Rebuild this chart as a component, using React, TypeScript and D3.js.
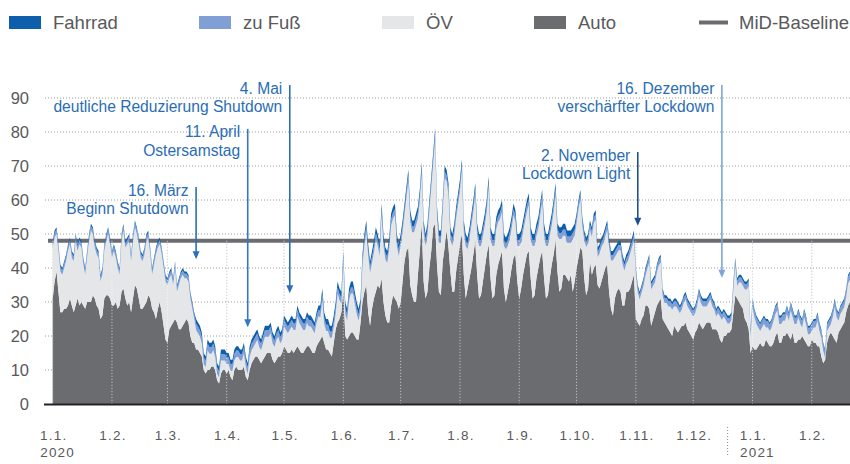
import React from 'react';
import * as d3 from 'd3';

// daily values, 1.1.2020 - 21.2.2021 (one entry per day)
const auto = [
  31, 36, 39, 33, 27, 27, 28, 28, 29, 31,
  29, 27, 29, 31, 29, 30, 29, 28, 30, 30,
  30, 32, 31, 29, 28, 25, 26, 31, 32, 32,
  31, 29, 29, 30, 28, 29, 33, 34, 31, 29,
  30, 27, 31, 35, 34, 31, 28, 28, 29, 30,
  32, 31, 28, 27, 25, 28, 30, 27, 23, 19,
  18, 22, 23, 24, 25, 24, 22, 22, 23, 24,
  25, 24, 20, 18, 18, 16, 16, 15, 14, 10,
  9, 10, 10, 11, 11, 10, 7, 6, 9, 10,
  10, 9, 10, 8, 7, 10, 11, 10, 10, 10,
  11, 8, 7, 10, 12, 13, 14, 14, 13, 12,
  13, 14, 15, 15, 15, 13, 12, 13, 14, 14,
  15, 17, 16, 15, 15, 16, 15, 16, 17, 16,
  15, 15, 16, 17, 17, 16, 15, 15, 17, 18,
  19, 20, 18, 16, 16, 15, 14, 18, 22, 24,
  25, 27, 34, 20, 19, 20, 21, 21, 20, 19,
  19, 24, 30, 33, 35, 27, 23, 28, 31, 33,
  35, 34, 37, 30, 26, 24, 24, 29, 32, 31,
  30, 28, 30, 36, 42, 45, 46, 35, 32, 30,
  30, 38, 45, 53, 36, 31, 33, 40, 45, 52,
  53, 41, 33, 32, 42, 46, 51, 46, 39, 33,
  33, 39, 43, 47, 50, 38, 31, 34, 37, 40,
  44, 48, 38, 31, 32, 36, 40, 44, 47, 37,
  31, 32, 38, 41, 43, 45, 34, 30, 33, 36,
  40, 43, 44, 36, 31, 34, 38, 41, 44, 45,
  37, 31, 32, 37, 40, 43, 45, 37, 31, 32,
  37, 41, 44, 48, 39, 33, 34, 38, 38, 37,
  36, 38, 33, 36, 40, 43, 46, 45, 37, 32,
  34, 42, 38, 40, 41, 35, 34, 36, 38, 40,
  41, 33, 28, 26, 31, 33, 34, 33, 29, 29,
  33, 33, 34, 36, 38, 25, 24, 23, 25, 26,
  29, 29, 28, 23, 25, 27, 29, 30, 31, 25,
  24, 23, 22, 21, 20, 23, 22, 21, 22, 23,
  23, 24, 22, 21, 20, 19, 21, 22, 24, 23,
  22, 23, 24, 24, 24, 22, 22, 22, 21, 19,
  18, 20, 20, 21, 21, 22, 27, 32, 31, 30,
  29, 28, 25, 24, 22, 15, 17, 16, 16, 17,
  18, 17, 17, 19, 18, 17, 17, 18, 20, 21,
  18, 18, 20, 20, 21, 20, 19, 21, 18, 18,
  19, 19, 20, 19, 18, 17, 17, 19, 18, 18,
  17, 17, 14, 12, 13, 18, 20, 21, 20, 19,
  18, 21, 22, 23, 24, 27, 29, 30,
];

const oev = [
  15, 13, 11, 12, 12, 11, 12, 14, 16, 16,
  14, 15, 19, 14, 18, 16, 12, 10, 13, 18,
  21, 18, 15, 15, 15, 11, 12, 14, 16, 18,
  16, 14, 16, 13, 12, 9, 15, 17, 15, 18,
  18, 15, 17, 17, 16, 16, 15, 14, 15, 18,
  17, 13, 10, 14, 19, 18, 17, 17, 17, 17,
  17, 15, 15, 11, 15, 9, 13, 15, 15, 13,
  12, 12, 11, 10, 7, 5.8, 4.8, 4.8, 3.8, 1.8,
  1.8, 5.8, 4.8, 3.8, 4.8, 3.8, 1.8, 1.8, 3.8, 2.8,
  2.8, 2.8, 1.8, 1.8, 2.8, 2.8, 2.8, 3.8, 2.8, 2.8,
  3.8, 2.8, 1.8, 3.8, 3.8, 3.8, 3.8, 4.8, 3.8, 3.8,
  4.8, 5.8, 4.8, 4.8, 5.8, 4.8, 4.8, 5.8, 5.8, 3.8,
  3.8, 5.8, 5.8, 5.8, 6.8, 6.8, 6.8, 5.8, 8.8, 7.8,
  7.8, 6.8, 5.8, 6.8, 5.8, 6.8, 6.8, 5.8, 6.8, 7.8,
  6.5, 10.5, 5.5, 5.5, 5.5, 4.5, 5.5, 4.5, 4.5, 8.5,
  5.5, 2.5, 7.5, 6.5, 5.5, 10.5, 11.5, 11.5, 9.5, 7.5,
  5.5, 3.5, 10.5, 13.5, 15.5, 16.5, 15.5, 13.5, 13.5, 15.5,
  11.5, 9.5, 18.5, 16.5, 16.5, 17.5, 21.5, 23.5, 22.5, 24.5,
  16.5, 15.5, 16.5, 14.5, 13.5, 15.5, 19.5, 18.5, 18.5, 20.5,
  22.5, 16.5, 14.5, 14.5, 14.5, 15.5, 16.5, 16.5, 18.5, 18.5,
  24.5, 13.5, 14.5, 15.5, 14.5, 20.5, 14.5, 15.5, 9.5, 13.5,
  16.5, 15.5, 15.5, 15.5, 18.5, 12.5, 15.5, 11.5, 11.5, 12.5,
  12.5, 13.5, 11.5, 15.5, 14.5, 13.5, 12.5, 12.5, 16.5, 11.5,
  15.5, 14.5, 13.5, 12.5, 11.5, 11.5, 12.5, 15.5, 13.5, 12.5,
  11.5, 12.5, 9.5, 10.5, 15.5, 13.5, 12.5, 12.5, 12.5, 13.5,
  11.5, 15.5, 14.5, 12.5, 11.5, 12.5, 14.5, 12.5, 15.5, 14.5,
  12.5, 11.5, 12.5, 13.5, 10.5, 15.5, 14.5, 11.5, 11.5, 10.5,
  11.5, 9.5, 15.5, 13.5, 13.2, 14.2, 14.2, 7.2, 11.2, 14.2,
  13.2, 9.2, 11.2, 13.2, 13.2, 8.2, 10.2, 10.2, 9.2, 9.2,
  10.2, 13.2, 14.2, 16.2, 12.2, 11.2, 11.2, 12.2, 12.2, 10.2,
  8.2, 9.2, 10.2, 10.2, 10.2, 12.7, 8.7, 7.7, 7.7, 8.7,
  8.7, 10.7, 13.7, 10.7, 9.7, 8.7, 9.7, 10.7, 10.7, 6.7,
  5.7, 6.7, 6.7, 7.7, 7.7, 5.7, 6.7, 6.7, 4.7, 4.7,
  6.7, 6.7, 6.7, 6.7, 6.7, 6.7, 5.7, 6.7, 7.7, 6.7,
  6.7, 5.7, 4.7, 5.7, 6.7, 6.7, 5.7, 3.7, 5.7, 6.7,
  6.7, 5.7, 4.7, 2.7, 2.7, 2.7, 6.7, 8.7, 3.7, 5.7,
  6.7, 6.7, 8.7, 9.7, 12.7, 4.7, 11.5, 9.5, 7.5, 5.5,
  3.5, 5.5, 6.5, 3.5, 4.5, 4.5, 5.5, 6.5, 6.5, 6.5,
  5.5, 5.5, 4.5, 4.5, 5.5, 4.5, 8.5, 4.5, 5.5, 5.5,
  6.5, 4.5, 2.5, 6.5, 5.5, 3.5, 3.5, 2.5, 4.5, 4.5,
  7.5, 4.5, 5.5, 3.5, 0.5, 3.5, 2.5, 2.5, 5.5, 9.5,
  7.5, 3.5, 4.5, 4.5, 4.5, 4.5, 6.5, 6.5,
];

const fuss = [
  1.3, 1.3, 1.3, 1.3, 1.3, 1.3, 1.3, 1.3, 1.3, 1.3,
  1.3, 1.3, 1.3, 1.3, 1.3, 1.3, 1.3, 1.3, 1.3, 1.3,
  1.3, 1.3, 1.3, 1.3, 1.3, 1.3, 1.3, 1.3, 1.3, 1.3,
  1.3, 1.3, 1.3, 1.3, 1.3, 1.3, 1.3, 1.3, 1.3, 1.3,
  1.3, 1.3, 1.3, 1.3, 1.3, 1.3, 1.3, 1.3, 1.3, 1.3,
  1.3, 1.3, 1.3, 1.3, 1.3, 1.3, 1.3, 1.3, 1.3, 1.3,
  1.3, 1.3, 1.3, 1.3, 1.3, 1.3, 1.3, 1.3, 1.3, 1.3,
  1.3, 1.3, 1.3, 1.3, 1.3, 1.9, 1.9, 1.9, 1.9, 1.9,
  1.9, 1.9, 1.9, 1.9, 1.9, 1.9, 1.9, 1.9, 1.9, 1.9,
  1.9, 1.9, 1.9, 1.9, 1.9, 1.9, 1.9, 1.9, 1.9, 1.9,
  1.9, 1.9, 1.9, 1.9, 1.9, 1.9, 1.9, 1.9, 1.9, 1.9,
  1.9, 1.9, 1.9, 1.9, 1.9, 1.9, 1.9, 1.9, 1.9, 1.9,
  1.9, 1.9, 1.9, 1.9, 1.9, 1.9, 1.9, 1.9, 1.9, 1.9,
  1.9, 1.9, 1.9, 1.9, 1.9, 1.9, 1.9, 1.9, 1.9, 1.9,
  1.8, 1.8, 1.8, 1.8, 1.8, 1.8, 1.8, 1.8, 1.8, 1.8,
  1.8, 1.8, 1.8, 1.8, 1.8, 1.8, 1.8, 1.8, 1.8, 1.8,
  1.8, 1.8, 1.8, 1.8, 1.8, 1.8, 1.8, 1.8, 1.8, 1.8,
  1.8, 1.8, 1.8, 1.8, 1.8, 1.8, 1.8, 1.8, 1.8, 1.8,
  1.8, 1.8, 1.8, 1.8, 1.8, 1.8, 1.8, 1.8, 1.8, 1.8,
  1.8, 1.8, 1.8, 1.8, 1.8, 1.8, 1.8, 1.8, 1.8, 1.8,
  1.8, 1.8, 1.8, 1.8, 1.8, 1.8, 1.8, 1.8, 1.8, 1.8,
  1.8, 1.8, 1.8, 1.8, 1.8, 1.8, 1.8, 1.8, 1.8, 1.8,
  1.8, 1.8, 1.8, 1.8, 1.8, 1.8, 1.8, 1.8, 1.8, 1.8,
  1.8, 1.8, 1.8, 1.8, 1.8, 1.8, 1.8, 1.8, 1.8, 1.8,
  1.8, 1.8, 1.8, 1.8, 1.8, 1.8, 1.8, 1.8, 1.8, 1.8,
  1.8, 1.8, 1.8, 1.8, 1.8, 1.8, 1.8, 1.8, 1.8, 1.8,
  1.8, 1.8, 1.8, 1.8, 1.8, 1.8, 1.8, 1.8, 1.8, 1.8,
  1.8, 1.8, 1.8, 1.8, 1.6, 1.6, 1.6, 1.6, 1.6, 1.6,
  1.6, 1.6, 1.6, 1.6, 1.6, 1.6, 1.6, 1.6, 1.6, 1.6,
  1.6, 1.6, 1.6, 1.6, 1.6, 1.6, 1.6, 1.6, 1.6, 1.6,
  1.6, 1.6, 1.6, 1.6, 1.6, 1.5, 1.5, 1.5, 1.5, 1.5,
  1.5, 1.5, 1.5, 1.5, 1.5, 1.5, 1.5, 1.5, 1.5, 1.5,
  1.5, 1.5, 1.5, 1.5, 1.5, 1.5, 1.5, 1.5, 1.5, 1.5,
  1.5, 1.5, 1.5, 1.5, 1.5, 1.5, 1.5, 1.5, 1.5, 1.5,
  1.5, 1.5, 1.5, 1.5, 1.5, 1.5, 1.5, 1.5, 1.5, 1.5,
  1.5, 1.5, 1.5, 1.5, 1.5, 1.5, 1.5, 1.5, 1.5, 1.5,
  1.5, 1.5, 1.5, 1.5, 1.5, 1.5, 1.9, 1.9, 1.9, 1.9,
  1.9, 1.9, 1.9, 1.9, 1.9, 1.9, 1.9, 1.9, 1.9, 1.9,
  1.9, 1.9, 1.9, 1.9, 1.9, 1.9, 1.9, 1.9, 1.9, 1.9,
  1.9, 1.9, 1.9, 1.9, 1.9, 1.9, 1.9, 1.9, 1.9, 1.9,
  1.9, 1.9, 1.9, 1.9, 1.9, 1.9, 1.9, 1.9, 1.9, 1.9,
  1.9, 1.9, 1.9, 1.9, 1.9, 1.9, 1.9, 1.9,
];

const rad = [
  0.7, 0.7, 0.7, 0.7, 0.7, 0.7, 0.7, 0.7, 0.7, 0.7,
  0.7, 0.7, 0.7, 0.7, 0.7, 0.7, 0.7, 0.7, 0.7, 0.7,
  0.7, 0.7, 0.7, 0.7, 0.7, 0.7, 0.7, 0.7, 0.7, 0.7,
  0.7, 0.7, 0.7, 0.7, 0.7, 0.7, 0.7, 0.7, 0.7, 0.7,
  0.7, 0.7, 0.7, 0.7, 0.7, 0.7, 0.7, 0.7, 0.7, 0.7,
  0.7, 0.7, 0.7, 0.7, 0.7, 0.7, 0.7, 0.7, 0.7, 0.7,
  0.7, 0.7, 0.7, 0.7, 0.7, 0.7, 0.7, 0.7, 0.7, 0.7,
  0.7, 0.7, 0.7, 0.7, 0.7, 1.3, 1.3, 1.3, 1.3, 1.3,
  1.3, 1.3, 1.3, 1.3, 1.3, 1.3, 1.3, 1.3, 1.3, 1.3,
  1.3, 1.3, 1.3, 1.3, 1.3, 1.3, 1.3, 1.3, 1.3, 1.3,
  1.3, 1.3, 1.3, 1.3, 1.3, 1.3, 1.3, 1.3, 1.3, 1.3,
  1.3, 1.3, 1.3, 1.3, 1.3, 1.3, 1.3, 1.3, 1.3, 1.3,
  1.3, 1.3, 1.3, 1.3, 1.3, 1.3, 1.3, 1.3, 1.3, 1.3,
  1.3, 1.3, 1.3, 1.3, 1.3, 1.3, 1.3, 1.3, 1.3, 1.3,
  1.7, 1.7, 1.7, 1.7, 1.7, 1.7, 1.7, 1.7, 1.7, 1.7,
  1.7, 1.7, 1.7, 1.7, 1.7, 1.7, 1.7, 1.7, 1.7, 1.7,
  1.7, 1.7, 1.7, 1.7, 1.7, 1.7, 1.7, 1.7, 1.7, 1.7,
  1.7, 1.7, 1.7, 1.7, 1.7, 1.7, 1.7, 1.7, 1.7, 1.7,
  1.7, 1.7, 1.7, 1.7, 1.7, 1.7, 1.7, 1.7, 1.7, 1.7,
  1.7, 1.7, 1.7, 1.7, 1.7, 1.7, 1.7, 1.7, 1.7, 1.7,
  1.7, 1.7, 1.7, 1.7, 1.7, 1.7, 1.7, 1.7, 1.7, 1.7,
  1.7, 1.7, 1.7, 1.7, 1.7, 1.7, 1.7, 1.7, 1.7, 1.7,
  1.7, 1.7, 1.7, 1.7, 1.7, 1.7, 1.7, 1.7, 1.7, 1.7,
  1.7, 1.7, 1.7, 1.7, 1.7, 1.7, 1.7, 1.7, 1.7, 1.7,
  1.7, 1.7, 1.7, 1.7, 1.7, 1.7, 1.7, 1.7, 1.7, 1.7,
  1.7, 1.7, 1.7, 1.7, 1.7, 1.7, 1.7, 1.7, 1.7, 1.7,
  1.7, 1.7, 1.7, 1.7, 1.7, 1.7, 1.7, 1.7, 1.7, 1.7,
  1.7, 1.7, 1.7, 1.7, 1.2, 1.2, 1.2, 1.2, 1.2, 1.2,
  1.2, 1.2, 1.2, 1.2, 1.2, 1.2, 1.2, 1.2, 1.2, 1.2,
  1.2, 1.2, 1.2, 1.2, 1.2, 1.2, 1.2, 1.2, 1.2, 1.2,
  1.2, 1.2, 1.2, 1.2, 1.2, 0.8, 0.8, 0.8, 0.8, 0.8,
  0.8, 0.8, 0.8, 0.8, 0.8, 0.8, 0.8, 0.8, 0.8, 0.8,
  0.8, 0.8, 0.8, 0.8, 0.8, 0.8, 0.8, 0.8, 0.8, 0.8,
  0.8, 0.8, 0.8, 0.8, 0.8, 0.8, 0.8, 0.8, 0.8, 0.8,
  0.8, 0.8, 0.8, 0.8, 0.8, 0.8, 0.8, 0.8, 0.8, 0.8,
  0.8, 0.8, 0.8, 0.8, 0.8, 0.8, 0.8, 0.8, 0.8, 0.8,
  0.8, 0.8, 0.8, 0.8, 0.8, 0.8, 0.6, 0.6, 0.6, 0.6,
  0.6, 0.6, 0.6, 0.6, 0.6, 0.6, 0.6, 0.6, 0.6, 0.6,
  0.6, 0.6, 0.6, 0.6, 0.6, 0.6, 0.6, 0.6, 0.6, 0.6,
  0.6, 0.6, 0.6, 0.6, 0.6, 0.6, 0.6, 0.6, 0.6, 0.6,
  0.6, 0.6, 0.6, 0.6, 0.6, 0.6, 0.6, 0.6, 0.6, 0.6,
  0.6, 0.6, 0.6, 0.6, 0.6, 0.6, 0.6, 0.6,
];

const baselineValue = 48;
const yTicks = [0, 10, 20, 30, 40, 50, 60, 70, 80, 90];

const seriesKeys = ['auto', 'oev', 'fuss', 'rad'];
const colors = {
  rad: '#0d5fae',
  fuss: '#809fd4',
  oev: '#e5e6e8',
  auto: '#6b6c70',
};

const legendItems = [
  {key: 'rad', label: 'Fahrrad', x: 9},
  {key: 'fuss', label: 'zu Fuß', x: 199},
  {key: 'oev', label: 'ÖV', x: 382},
  {key: 'auto', label: 'Auto', x: 534},
];

const events = [
  {date: Date.UTC(2020, 2, 16), lines: ['16. März', 'Beginn Shutdown'], top: 63.8, tip: 42.6, color: '#2a6fb9'},
  {date: Date.UTC(2020, 3, 12), lines: ['11. April', 'Ostersamstag'], top: 80.9, tip: 22.6, color: '#3577c0'},
  {date: Date.UTC(2020, 4, 4), lines: ['4. Mai', 'deutliche Reduzierung Shutdown'], top: 93.8, tip: 32.6, color: '#2c6fb8'},
  {date: Date.UTC(2020, 10, 2), lines: ['2. November', 'Lockdown Light'], top: 74.1, tip: 52.4, color: '#1d4f8f'},
  {date: Date.UTC(2020, 11, 16), lines: ['16. Dezember', 'verschärfter Lockdown'], top: 93.8, tip: 37.1, color: '#7ba6d6'},
];

const W = 850;
const H = 464;
const LABEL_FONT = "'Liberation Sans', Arial, sans-serif";

export default function App() {
  const start = new Date(Date.UTC(2020, 0, 1));
  const end = new Date(Date.UTC(2021, 1, 22));
  const days = d3.utcDay.range(start, end);

  const rows = days.map((date, i) => ({
    date,
    auto: auto[i],
    oev: oev[i],
    fuss: fuss[i],
    rad: rad[i],
  }));

  const x = d3
    .scaleUtc()
    .domain([start, days[days.length - 1]])
    .range([52.7, 850]);
  const y = d3.scaleLinear().domain([0, 90]).range([404, 98]);

  const stacked = d3.stack().keys(seriesKeys)(rows as any);
  const area = d3
    .area<any>()
    .x(d => x(d.data.date))
    .y0(d => y(d[0]))
    .y1(d => y(d[1]));

  const months = d3.utcMonth.range(start, end);
  const fmt = d3.utcFormat('%-d.%-m.');
  const yearSplit = x(new Date(Date.UTC(2020, 11, 19)));

  return (
    <svg
      width={W}
      height={H}
      viewBox={`0 0 ${W} ${H}`}
      style={{position: 'absolute', left: 0, top: 0, background: '#fff'}}
    >
      {/* legend */}
      <g fontFamily={LABEL_FONT} fontSize={18.5} fill="#58595b">
        {legendItems.map(item => (
          <g key={item.key}>
            <rect x={item.x} y={16} width={32} height={13} fill={colors[item.key]} />
            <text x={item.x + 44} y={29}>
              {item.label}
            </text>
          </g>
        ))}
        <line x1={699} x2={728} y1={22.5} y2={22.5} stroke="#6b6c70" strokeWidth={4} />
        <text x={739} y={29}>
          MiD-Baseline
        </text>
      </g>

      {/* horizontal grid */}
      {yTicks
        .filter(t => t > 0)
        .map(t => (
          <line
            key={t}
            x1={45}
            x2={W}
            y1={y(t)}
            y2={y(t)}
            stroke="#9a9a9a"
            strokeWidth={1}
            strokeDasharray="1,2"
          />
        ))}

      {/* month lines behind */}
      {months.map(m => (
        <line
          key={+m}
          x1={x(m)}
          x2={x(m)}
          y1={y(baselineValue)}
          y2={y(0)}
          stroke="#9a9a9a"
          strokeDasharray="1,2"
        />
      ))}

      {/* MiD baseline */}
      <line
        x1={48}
        x2={W}
        y1={y(baselineValue)}
        y2={y(baselineValue)}
        stroke="#6b6c70"
        strokeWidth={4}
      />

      {stacked.map(s => (
        <path key={s.key} d={area(s) || ''} fill={colors[s.key]} />
      ))}

      {/* month lines over the areas */}
      {months.map(m => (
        <line
          key={'w' + +m}
          x1={x(m)}
          x2={x(m)}
          y1={y(baselineValue)}
          y2={y(0)}
          stroke="#ffffff"
          strokeOpacity={0.7}
          strokeDasharray="1,2"
        />
      ))}

      {/* x axis line */}
      <line x1={44} x2={W} y1={y(0) + 0.5} y2={y(0) + 0.5} stroke="#222" strokeWidth={2} />

      {/* y labels */}
      <g fontFamily={LABEL_FONT} fontSize={16.5} fill="#58595b" textAnchor="end">
        {yTicks.map(t => (
          <text key={t} x={29} y={y(t) + 6}>
            {t}
          </text>
        ))}
      </g>

      {/* x labels */}
      <g fontFamily={LABEL_FONT} fontSize={13.5} fill="#58595b" letterSpacing={1.2}>
        {months.map(m => (
          <text key={+m} x={x(m) + 1} y={440} textAnchor="middle">
            {fmt(m)}
          </text>
        ))}
        {months
          .filter(m => m.getUTCMonth() === 0)
          .map(m => (
            <text key={'y' + +m} x={x(m) - 12.5} y={457}>
              {m.getUTCFullYear()}
            </text>
          ))}
      </g>
      <line
        x1={yearSplit}
        x2={yearSplit}
        y1={427}
        y2={456}
        stroke="#888"
        strokeDasharray="1,2"
      />

      {/* annotations */}
      <g fontFamily={LABEL_FONT} fontSize={15.6}>
        {events.map(ev => {
          const ex = x(new Date(ev.date));
          const top = y(ev.top);
          const tip = y(ev.tip);
          return (
            <g key={ev.lines[0]}>
              <line x1={ex} x2={ex} y1={top} y2={tip - 6} stroke={ev.color} strokeWidth={1.6} />
              <path
                d={`M${ex - 3.5},${tip - 8}L${ex + 3.5},${tip - 8}L${ex},${tip}Z`}
                fill={ev.color}
              />
              <text x={ex - 7.5} y={top + 8.5} textAnchor="end" fill="#2a6db5">
                {ev.lines[0]}
              </text>
              <text x={ex - 7.5} y={top + 27} textAnchor="end" fill="#2a6db5">
                {ev.lines[1]}
              </text>
            </g>
          );
        })}
      </g>
    </svg>
  );
}
